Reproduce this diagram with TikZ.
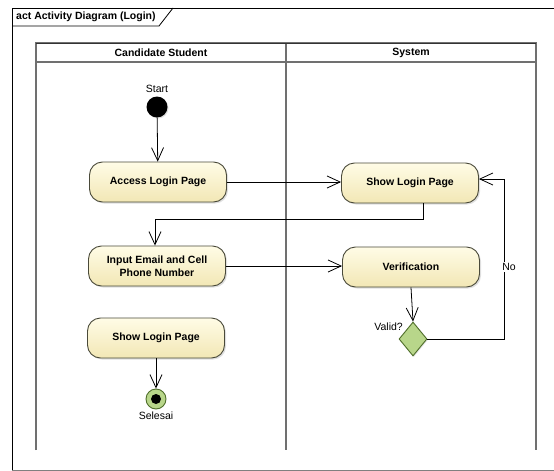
\documentclass[tikz,border=0pt]{standalone}
\usepackage{fontspec}
\setmainfont{Liberation Sans}
\usetikzlibrary{arrows.meta,shapes.geometric,shadows,positioning}
\definecolor{lanegray}{HTML}{707070}
\definecolor{boxborder}{HTML}{4A4A3A}
\definecolor{boxtop}{HTML}{FFFCE6}
\definecolor{boxbot}{HTML}{F2E7B5}
\definecolor{dgreen}{HTML}{B8D68A}
\definecolor{dgreenb}{HTML}{4F6E2A}
\tikzset{
  x=1pt, y=-1pt,
  every node/.style={font=\fontsize{10.5}{12.5}\selectfont},
  actbox/.style={draw=boxborder, line width=0.9pt, rounded corners=13pt,
    top color=boxtop, bottom color=boxbot, minimum width=137pt, minimum height=40pt,
    inner sep=2pt, align=center, font=\fontsize{10.5}{13}\selectfont\bfseries,
    drop shadow={shadow xshift=1.5pt, shadow yshift=-1.5pt, opacity=0.25}},
  flow/.style={line width=0.8pt, -{Straight Barb[length=13pt,width=12pt,line width=0.8pt]}},
  lane/.style={draw=lanegray, line width=1.8pt},
  lbl/.style={font=\fontsize{10.5}{12.5}\selectfont, inner sep=1pt},
}
\begin{document}
\begin{tikzpicture}
\useasboundingbox (0,0) rectangle (554,471);
\fill[white] (0,0) rectangle (554,471);
% outer frame
\draw[line width=0.9pt] (12,470) -- (12,8) -- (554,8);
\draw[line width=0.6pt, black!50] (12,470) -- (554,470);
\coordinate (tabA) at (12,26);
\coordinate (tabB) at (159,26);
\coordinate (tabC) at (173,8);
\draw[line width=0.8pt] (tabA) -- (tabB) -- (tabC);
\node[anchor=west, font=\fontsize{10.5}{12.5}\selectfont\bfseries, inner sep=0pt] (title) at (16,17) {act Activity Diagram (Login)};
% swimlanes
\draw[lane] (36,450) -- (36,43) -- (536,43) -- (536,450);
\draw[lane] (36,62) -- (536,62);
\draw[lane] (286,43) -- (286,450);
\draw[line width=0.8pt, black!80] (36,43) -- (536,43);
\node[font=\fontsize{10.5}{12.5}\selectfont\bfseries] (laneA) at (161,52.5) {Candidate Student};
\node[font=\fontsize{10.5}{12.5}\selectfont\bfseries] (laneB) at (411,52.5) {System};
% nodes
\node[circle, fill=black, minimum size=21pt, inner sep=0pt,
  drop shadow={shadow xshift=1pt, shadow yshift=-1pt, opacity=0.25}] (start) at (157,107) {};
\node[lbl] (startlbl) at (157,89) {Start};
\node[actbox] (access) at (158,182) {Access Login Page};
\node[actbox] (show1) at (410,183) {Show Login Page};
\node[actbox] (input) at (157,266) {Input Email and Cell\\Phone Number};
\node[actbox] (verif) at (411,267) {Verification};
\node[actbox] (show2) at (156,338) {Show Login Page};
\node[diamond, draw=dgreenb, fill=dgreen, line width=0.9pt, minimum width=28pt, minimum height=34pt, inner sep=0pt,
  drop shadow={shadow xshift=1pt, shadow yshift=-1pt, opacity=0.2}] (dec) at (413,339) {};
\node[lbl, anchor=south east] (validlbl) at (404,332) {Valid?};
\node[circle, draw=dgreenb, fill=dgreen, line width=0.9pt, minimum size=20pt, inner sep=0pt] (final) at (156,399) {};
\node[circle, fill=black, minimum size=10pt, inner sep=0pt] (finaldot) at (final) {};
\node[lbl] (selesai) at (156,416) {Selesai};
% connectors
\draw[flow] (start) -- (access);
\draw[flow] (access.east) -- (access.east -| show1.west);
\draw[flow] ([xshift=13pt]show1.south) -- ++(0,-16pt) -| ([xshift=-2pt]input.north);
\draw[flow] (input.east) -- (input.east -| verif.west);
\draw[flow] (verif.south) -- (dec.north);
\coordinate (nobot) at (504,339);
\coordinate (notop) at (504,179);
\draw[flow] (dec.east) -- (nobot) -- (notop) -- (notop -| show1.east);
\node[lbl, fill=white, inner sep=1.5pt] (nolbl) at (509,267) {No};
\draw[flow] (show2.south) -- (final.north);
\end{tikzpicture}
\end{document}
